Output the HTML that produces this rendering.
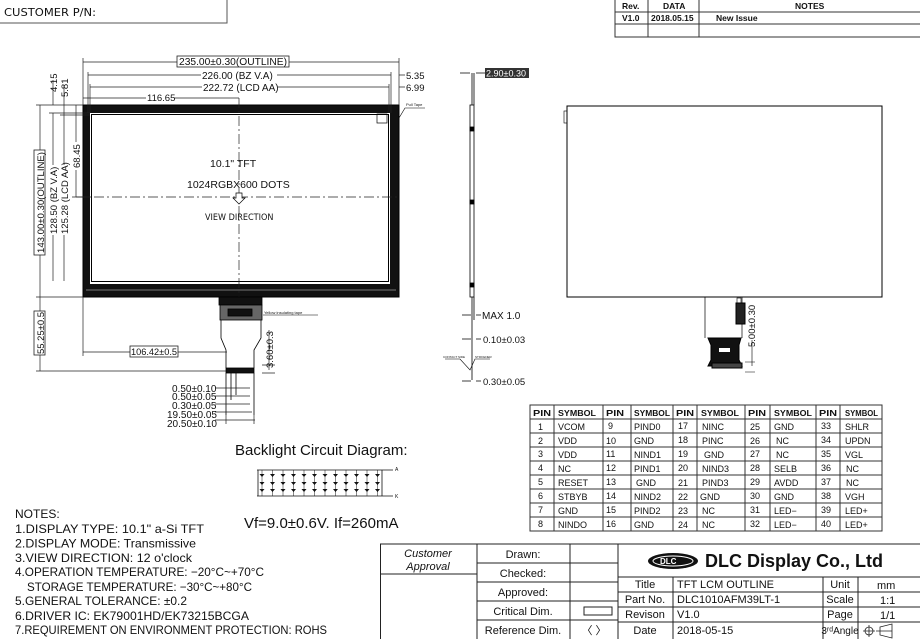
<!DOCTYPE html>
<html><head><meta charset="utf-8"><style>
html,body{margin:0;padding:0;background:#fff}
svg{display:block}
text{font-family:"Liberation Sans",sans-serif;fill:#111}
.s{font-family:"DejaVu Sans Condensed","DejaVu Sans",sans-serif}
.m{font-family:"Liberation Serif",serif}
</style></head><body>
<svg width="920" height="639" viewBox="0 0 920 639" xmlns="http://www.w3.org/2000/svg" stroke-linecap="butt">
<path d="M0 23H227V0" fill="none" stroke="#555" stroke-width="1"/>
<text x="4" y="16" font-size="11" class="s" textLength="92" lengthAdjust="spacingAndGlyphs">CUSTOMER P/N:</text>
<g stroke="#333" stroke-width="1" fill="none">
<path d="M615 0V37H920M615 12H920M615 24H920M648 0V37M699 0V37"/>
</g>
<g font-size="8.5" class="s" font-weight="bold">
<text x="622" y="9">Rev.</text><text x="663" y="9">DATA</text><text x="795" y="9">NOTES</text>
<text x="622" y="21">V1.0</text><text x="651" y="21">2018.05.15</text><text x="716" y="21">New Issue</text>
</g>

<g fill="none" stroke="#000">
<rect x="83" y="105" width="316" height="192" fill="#111"/>
<rect x="90" y="113" width="300" height="171" fill="#fff" stroke="none"/>
<rect x="91.5" y="114.5" width="297" height="167" stroke-width="1"/>
<rect x="377" y="114" width="10" height="9" stroke-width="0.7"/>
<path d="M86 290H396" stroke="#555" stroke-width="1.5"/>
</g>
<g stroke="#222" stroke-width="0.7" stroke-dasharray="10 3 2 3" fill="none">
<path d="M239 98V297"/><path d="M76 197H399"/>
</g>
<text x="210" y="167" font-size="10.5">10.1"  TFT</text>
<text x="187" y="188" font-size="10.5">1024RGBX600  DOTS</text>
<text x="205" y="220" font-size="9" class="s">VIEW DIRECTION</text>
<path d="M236 193v5h-3l6 6 6-6h-3v-5z" fill="#fff" stroke="#000" stroke-width="0.7"/>
<g stroke="#000" fill="none" stroke-width="0.8">
<rect x="219" y="297" width="43" height="8" fill="#111"/>
<rect x="220" y="305" width="42" height="15" fill="#666"/>
<rect x="228" y="309" width="24" height="7" fill="#111"/>
<path d="M221 320V338L226 350V368M261 320V338L254 350V368"/>
<rect x="226" y="368" width="28" height="5" fill="#111"/>
<path d="M226 373V415M254 373V415M231 373V400M236 373V395"/>
<path d="M263 315H318" stroke-width="0.5"/>
</g>
<text x="264" y="314" font-size="4">Yellow insulating tape</text>
<path d="M399 118L405 108H425" stroke="#000" stroke-width="0.6" fill="none"/>
<text x="406" y="106" font-size="4">Pull Tape</text>

<g stroke="#222" stroke-width="0.7" fill="none">
<path d="M83 62H399M88 75H391M90 87H389M83 98H239"/>
<path d="M83 58V105M399 58V105M88 72V113M391 72V113M90 84V113M389 84V113"/>
<path d="M399 75H405M399 87H405"/>
<path d="M40 105V297M53 113V281M64 113V281M76 105V197"/>
<path d="M36 105H83M49 113H90M60 115H90M72 197H90"/>
<path d="M53 80V105M64 85V113"/>
<path d="M36 297H83M40 297V371M36 371H226"/>
<path d="M83 297V356M83 352H227"/>
<path d="M269 330V370M262 365H275M262 373H275"/>
<path d="M215 388H250M215 396H250M215 404H250M215 412H252M215 420H255M226 415V424M254 415V424"/>
</g>
<rect x="177" y="56" width="112" height="11" fill="#fff" stroke="#222" stroke-width="0.8"/>
<text x="179" y="65" font-size="10" textLength="108" lengthAdjust="spacingAndGlyphs">235.00±0.30(OUTLINE)</text>
<rect x="201" y="70" width="76" height="10" fill="#fff"/>
<text x="202" y="79" font-size="10">226.00 (BZ V.A)</text>
<rect x="202" y="82" width="76" height="10" fill="#fff"/>
<text x="203" y="91" font-size="10">222.72 (LCD  AA)</text>
<rect x="146" y="93" width="28" height="10" fill="#fff"/>
<text x="147" y="101" font-size="9.5">116.65</text>
<text x="406" y="79" font-size="9.5">5.35</text>
<text x="406" y="91" font-size="9.5">6.99</text>
<g font-size="9.5">
<rect x="34" y="150" width="11" height="105" fill="#fff" stroke="#222" stroke-width="0.8"/>
<text transform="translate(44 253) rotate(-90)" textLength="101" lengthAdjust="spacingAndGlyphs">143.00±0.30(OUTLINE)</text>
<rect x="48" y="165" width="10" height="70" fill="#fff"/>
<text transform="translate(57 234) rotate(-90)">128.50 (BZ V.A)</text>
<rect x="59" y="165" width="10" height="70" fill="#fff"/>
<text transform="translate(68 234) rotate(-90)">125.28 (LCD  AA)</text>
<rect x="71" y="142" width="10" height="28" fill="#fff"/>
<text transform="translate(80 168) rotate(-90)">68.45</text>
<text transform="translate(57 92) rotate(-90)">4.15</text>
<text transform="translate(68 97) rotate(-90)">5.81</text>
<rect x="34" y="311" width="11" height="44" fill="#fff" stroke="#222" stroke-width="0.8"/>
<text transform="translate(44 354) rotate(-90)" textLength="42" lengthAdjust="spacingAndGlyphs">55.25±0.5</text>
<rect x="130" y="346" width="48" height="11" fill="#fff" stroke="#222" stroke-width="0.8"/>
<text x="131" y="355" textLength="46" lengthAdjust="spacingAndGlyphs">106.42±0.5</text>
<text transform="translate(273 368) rotate(-90)">3.60±0.3</text>
</g>
<g font-size="10">
<rect x="166" y="383" width="49" height="45" fill="#fff"/>
<text x="172" y="392">0.50±0.10</text>
<text x="172" y="400">0.50±0.05</text>
<text x="172" y="409">0.30±0.05</text>
<text x="167" y="418">19.50±0.05</text>
<text x="167" y="427">20.50±0.10</text>
</g>

<g stroke="#000" fill="none" stroke-width="0.8">
<rect x="470" y="105" width="4" height="192"/>
<path d="M472 73V105M474 73V105M472 297V380M474 297V320"/>
<path d="M460 73H470M476 73H485M462 315H471M476 315H481M462 339H471M476 339H481M462 381H471M476 381H481"/>
<path d="M445 359H460L470 370L475 359H490" stroke-width="0.6"/>
<rect x="470" y="127" width="4" height="4" fill="#000"/><rect x="470" y="200" width="4" height="4" fill="#000"/><rect x="470" y="283" width="4" height="4" fill="#000"/>
</g>
<rect x="485" y="68" width="44" height="10" fill="#333"/>
<text x="486" y="76.5" font-size="9" style="fill:#fff">2.90±0.30</text>
<text x="482" y="319" font-size="10">MAX 1.0</text>
<text x="483" y="343" font-size="9.5">0.10±0.03</text>
<text x="483" y="385" font-size="9.5">0.30±0.05</text>
<text x="443" y="358" font-size="3">CONTACT SIDE</text><text x="475" y="358" font-size="3">STIFFENER</text>

<g stroke="#000" fill="none" stroke-width="1">
<rect x="567" y="106" width="315" height="191"/>
<rect x="564" y="111" width="3" height="12" stroke-width="0.6"/>
<path d="M705 297V338M742 297V338" stroke-width="0.7"/>
<rect x="737" y="298" width="4" height="5" stroke-width="0.6"/>
<rect x="736" y="303" width="9" height="21" fill="#222"/>
<path d="M708 338H741L739 345V360L742 366H708L711 360V345Z" fill="#111"/>
<rect x="712" y="363" width="30" height="5" fill="#444"/>
<rect x="719" y="348" width="11" height="4" fill="#fff" stroke="none"/>
<path d="M745 362H755M745 372H755M752 340V366" stroke-width="0.6"/>
</g>
<text transform="translate(755 347) rotate(-90)" font-size="9.5">5.00±0.30</text>

<g stroke="#333" stroke-width="1" fill="none">
<rect x="530" y="405" width="352" height="126"/>
<path d="M530 419H882M530 433H882M530 447H882M530 461H882M530 475H882M530 489H882M530 503H882M530 517H882"/>
<path d="M554 405V531M603 405V531M631 405V531M673 405V531M697 405V531M745 405V531M770 405V531M816 405V531M840 405V531"/>
</g>
<g font-size="8.5" class="s" font-weight="bold">
<text x="533" y="416" textLength="18" lengthAdjust="spacingAndGlyphs">PIN</text><text x="558" y="416" textLength="38" lengthAdjust="spacingAndGlyphs">SYMBOL</text>
<text x="606" y="416" textLength="18" lengthAdjust="spacingAndGlyphs">PIN</text><text x="634" y="416" textLength="36" lengthAdjust="spacingAndGlyphs">SYMBOL</text>
<text x="676" y="416" textLength="18" lengthAdjust="spacingAndGlyphs">PIN</text><text x="701" y="416" textLength="38" lengthAdjust="spacingAndGlyphs">SYMBOL</text>
<text x="748" y="416" textLength="18" lengthAdjust="spacingAndGlyphs">PIN</text><text x="774" y="416" textLength="38" lengthAdjust="spacingAndGlyphs">SYMBOL</text>
<text x="819" y="416" textLength="18" lengthAdjust="spacingAndGlyphs">PIN</text><text x="845" y="416" textLength="33" lengthAdjust="spacingAndGlyphs">SYMBOL</text>
</g>
<g font-size="9" class="s">
<text x="538" y="430">1</text><text x="558" y="430">VCOM</text><text x="608" y="429">9</text><text x="634" y="430">PIND0</text><text x="678" y="429">17</text><text x="702" y="430">NINC</text><text x="750" y="430">25</text><text x="774" y="430">GND</text><text x="821" y="429">33</text><text x="845" y="430">SHLR</text>
<text x="538" y="444">2</text><text x="558" y="444">VDD</text><text x="606" y="444">10</text><text x="634" y="444">GND</text><text x="678" y="443">18</text><text x="702" y="444">PINC</text><text x="750" y="444">26</text><text x="776" y="444">NC</text><text x="821" y="443">34</text><text x="845" y="444">UPDN</text>
<text x="538" y="457">3</text><text x="558" y="458">VDD</text><text x="606" y="457">11</text><text x="634" y="458">NIND1</text><text x="678" y="457">19</text><text x="704" y="458">GND</text><text x="750" y="457">27</text><text x="776" y="458">NC</text><text x="821" y="457">35</text><text x="845" y="458">VGL</text>
<text x="538" y="471">4</text><text x="558" y="472">NC</text><text x="606" y="471">12</text><text x="634" y="472">PIND1</text><text x="678" y="471">20</text><text x="702" y="472">NIND3</text><text x="750" y="471">28</text><text x="774" y="472">SELB</text><text x="821" y="471">36</text><text x="846" y="472">NC</text>
<text x="538" y="485">5</text><text x="558" y="486">RESET</text><text x="606" y="485">13</text><text x="636" y="486">GND</text><text x="678" y="486">21</text><text x="702" y="486">PIND3</text><text x="750" y="485">29</text><text x="774" y="486">AVDD</text><text x="821" y="485">37</text><text x="846" y="486">NC</text>
<text x="538" y="499">6</text><text x="558" y="500">STBYB</text><text x="606" y="499">14</text><text x="634" y="500">NIND2</text><text x="678" y="500">22</text><text x="700" y="500">GND</text><text x="750" y="499">30</text><text x="774" y="500">GND</text><text x="821" y="499">38</text><text x="845" y="500">VGH</text>
<text x="538" y="513">7</text><text x="558" y="514">GND</text><text x="606" y="513">15</text><text x="634" y="514">PIND2</text><text x="678" y="514">23</text><text x="702" y="514">NC</text><text x="750" y="513">31</text><text x="774" y="514">LED−</text><text x="821" y="513">39</text><text x="845" y="514">LED+</text>
<text x="538" y="527">8</text><text x="558" y="528">NINDO</text><text x="606" y="527">16</text><text x="634" y="528">GND</text><text x="678" y="528">24</text><text x="702" y="528">NC</text><text x="750" y="527">32</text><text x="774" y="528">LED−</text><text x="821" y="527">40</text><text x="845" y="528">LED+</text>
</g>

<text x="235" y="455" font-size="15">Backlight Circuit Diagram:</text>
<g stroke="#111" stroke-width="0.8" fill="none">
<path d="M257 470H393M257 496H393"/>
<path d="M258 470V496M382 470V496"/>
<path d="M262 470V496M272.5 470V496M283 470V496M293.5 470V496M304 470V496M314.5 470V496M325 470V496M335.5 470V496M346 470V496M356.5 470V496M367 470V496M377.5 470V496" stroke-width="0.5"/>
</g>
<g fill="#111">
<path d="M259.5 474h5l-2.5 3z M270 474h5l-2.5 3z M280.5 474h5l-2.5 3z M291 474h5l-2.5 3z M301.5 474h5l-2.5 3z M312 474h5l-2.5 3z M322.5 474h5l-2.5 3z M333 474h5l-2.5 3z M343.5 474h5l-2.5 3z M354 474h5l-2.5 3z M364.5 474h5l-2.5 3z M375 474h5l-2.5 3z"/>
<path d="M259.5 482h5l-2.5 3z M270 482h5l-2.5 3z M280.5 482h5l-2.5 3z M291 482h5l-2.5 3z M301.5 482h5l-2.5 3z M312 482h5l-2.5 3z M322.5 482h5l-2.5 3z M333 482h5l-2.5 3z M343.5 482h5l-2.5 3z M354 482h5l-2.5 3z M364.5 482h5l-2.5 3z M375 482h5l-2.5 3z"/>
<path d="M259.5 489h5l-2.5 3z M270 489h5l-2.5 3z M280.5 489h5l-2.5 3z M291 489h5l-2.5 3z M301.5 489h5l-2.5 3z M312 489h5l-2.5 3z M322.5 489h5l-2.5 3z M333 489h5l-2.5 3z M343.5 489h5l-2.5 3z M354 489h5l-2.5 3z M364.5 489h5l-2.5 3z M375 489h5l-2.5 3z"/>
</g>
<text x="395" y="471" font-size="5">A</text><text x="395" y="498" font-size="5">K</text>
<text x="244" y="528" font-size="15">Vf=9.0±0.6V. If=260mA</text>

<g font-size="12" class="s">
<text x="15" y="518">NOTES:</text>
<text x="15" y="533" textLength="189" lengthAdjust="spacingAndGlyphs">1.DISPLAY TYPE: 10.1" a-Si TFT</text>
<text x="15" y="547.5" textLength="181" lengthAdjust="spacingAndGlyphs">2.DISPLAY MODE: Transmissive</text>
<text x="15" y="562" textLength="177" lengthAdjust="spacingAndGlyphs">3.VIEW DIRECTION: 12 o'clock</text>
<text x="15" y="576" textLength="249" lengthAdjust="spacingAndGlyphs">4.OPERATION TEMPERATURE: −20°C~+70°C</text>
<text x="27" y="591" textLength="225" lengthAdjust="spacingAndGlyphs">STORAGE TEMPERATURE: −30°C~+80°C</text>
<text x="15" y="605" textLength="172" lengthAdjust="spacingAndGlyphs">5.GENERAL TOLERANCE: ±0.2</text>
<text x="15" y="620" textLength="234" lengthAdjust="spacingAndGlyphs">6.DRIVER IC: EK79001HD/EK73215BCGA</text>
<text x="15" y="634" textLength="312" lengthAdjust="spacingAndGlyphs">7.REQUIREMENT ON ENVIRONMENT PROTECTION: ROHS</text>
</g>

<g stroke="#222" stroke-width="1" fill="none">
<path d="M380.5 639V544H920"/>
<path d="M380 574H477M477 544V639M570 544V639M618 544V639"/>
<path d="M477 563H618M477 582H618M477 601H618M477 620H618"/>
<path d="M618 577H920M618 592H920M618 607H920M618 622H920"/>
<path d="M673 577V639M823 577V639M858 577V639"/>
<rect x="584" y="607" width="28" height="8"/>
</g>
<g font-size="11" class="s" text-anchor="middle">
<text x="428" y="557" font-style="italic">Customer</text>
<text x="428" y="570" font-style="italic">Approval</text>
<text x="523" y="558">Drawn:</text>
<text x="523" y="577">Checked:</text>
<text x="523" y="596">Approved:</text>
<text x="523" y="615">Critical Dim.</text>
<text x="523" y="634">Reference Dim.</text>
<text x="594" y="634">〈  〉</text>
<text x="645" y="588">Title</text>
<text x="645" y="603">Part No.</text>
<text x="645" y="618">Revison</text>
<text x="645" y="634">Date</text>
<text x="840" y="588">Unit</text>
<text x="840" y="603">Scale</text>
<text x="840" y="618">Page</text>
<text x="840" y="634" font-size="10">3ʳᵈAngle</text>
</g>
<g font-size="11" class="m">
<text x="677" y="588">TFT LCM OUTLINE</text>
<text x="677" y="603">DLC1010AFM39LT-1</text>
<text x="677" y="618">V1.0</text>
<text x="677" y="634">2018-05-15</text>
<text x="877" y="589">mm</text>
<text x="880" y="604">1:1</text>
<text x="880" y="619">1/1</text>
</g>
<g stroke="#222" stroke-width="0.8" fill="none">
<circle cx="869" cy="631" r="4"/><path d="M863 631H875M869 625V637M876 631H892M880 627L892 624V638L880 635Z"/>
</g>
<ellipse cx="673" cy="561" rx="25" ry="8" fill="#111"/>
<ellipse cx="673" cy="561" rx="20" ry="5" fill="none" stroke="#fff" stroke-width="1"/>
<text x="660" y="564" font-size="8" font-weight="bold" style="fill:#fff">DLC</text>
<text x="705" y="567" font-size="18" font-weight="bold">DLC Display Co., Ltd</text>
</svg>
</body></html>
